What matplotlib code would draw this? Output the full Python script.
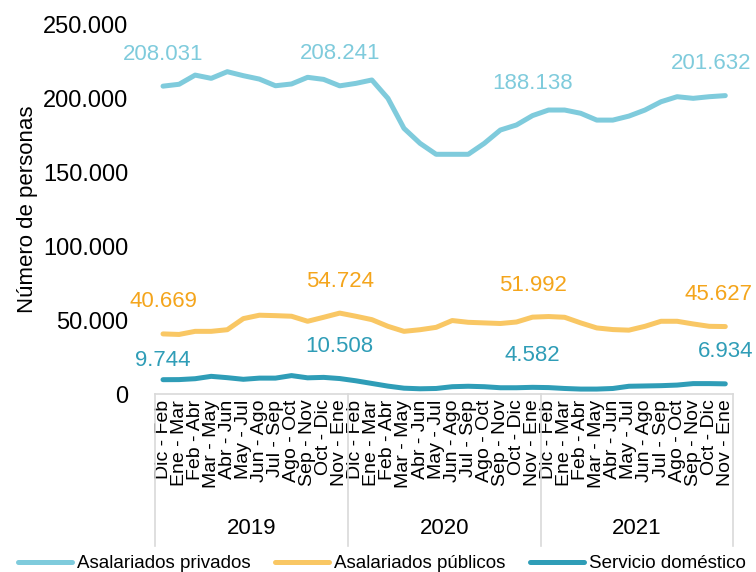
import matplotlib
matplotlib.use('Agg')
import matplotlib.pyplot as plt
import matplotlib.transforms as mtransforms
from matplotlib.ticker import FuncFormatter

plt.rcParams['font.family'] = ['Liberation Sans', 'DejaVu Sans']

# ── Datos ────────────────────────────────────────────────────────────────────
MONTHS = ['Dic - Feb', 'Ene - Mar', 'Feb - Abr', 'Mar - May', 'Abr - Jun',
          'May - Jul', 'Jun - Ago', 'Jul - Sep', 'Ago - Oct', 'Sep - Nov',
          'Oct - Dic', 'Nov - Ene']
YEARS = ['2019', '2020', '2021']
x_labels = MONTHS * len(YEARS)

privados = [208031, 209300, 215500, 213300, 217800, 215100, 212800, 208300,
            209500, 214000, 212600, 208241, 209900, 212200, 199800, 179500,
            169400, 162000, 162000, 162000, 169400, 178400, 181800, 188138,
            191900, 191900, 189700, 185100, 185100, 187800, 191900, 197500,
            200900, 199800, 200900, 201632]
publicos = [40669, 40300, 42400, 42400, 43500, 51000, 53300, 53000,
            52600, 49200, 51900, 54724, 52600, 50300, 45800, 42400,
            43500, 45100, 49700, 48500, 48100, 47700, 48700, 51992,
            52400, 51900, 48100, 44700, 43600, 43200, 45800, 49200,
            49200, 47400, 45800, 45627]
domestico = [9744, 9800, 10400, 12000, 11100, 10000, 10800, 10800,
             12500, 11000, 11300, 10508, 9000, 7200, 5400, 4000,
             3600, 3800, 5000, 5300, 5000, 4300, 4300, 4582,
             4400, 3800, 3400, 3400, 3800, 5300, 5500, 5700,
             6100, 7100, 7100, 6934]

label_idx = [0, 11, 23, 35]

series = [
    ('Asalariados privados', privados, '#7FCBDC', '#7FCBDC'),
    ('Asalariados públicos', publicos, '#F9C764', '#F4A51C'),
    ('Servicio doméstico', domestico, '#2F9DB7', '#2F9DB7'),
]


def fmt(v):
    return f'{v:,.0f}'.replace(',', '.')


# ── Figura ───────────────────────────────────────────────────────────────────
fig = plt.figure(figsize=(7.56, 5.72), dpi=100)
ax = fig.add_axes([0.205, 0.311, 0.765, 0.647])

x = list(range(len(x_labels)))
for name, vals, color, lcolor in series:
    ax.plot(x, vals, color=color, lw=3.6, solid_capstyle='round', label=name)
    for i in label_idx:
        dx = 0
        dy = 23
        if i == 35:
            dx = {'Asalariados privados': -10, 'Asalariados públicos': -5,
                  'Servicio doméstico': 0}[name]
        if name == 'Servicio doméstico' and i == 0:
            dy = 14
        ax.annotate(fmt(vals[i]), (i, vals[i]), xytext=(dx, dy),
                    textcoords='offset points', ha='center', va='center',
                    color=lcolor, fontsize=16, annotation_clip=False)

ax.set_xlim(-0.5, len(x) - 0.5)
ax.set_ylim(0, 250000)
ax.set_yticks(range(0, 250001, 50000))
ax.yaxis.set_major_formatter(FuncFormatter(lambda v, p: fmt(v)))
ax.tick_params(axis='y', length=0, labelsize=17, pad=19)
ax.set_ylabel('Número de personas', fontsize=16, labelpad=4)

ax.set_xticks(x)
ax.set_xticklabels(x_labels, rotation=90, fontsize=14)
ax.tick_params(axis='x', length=0, pad=4)

for s in ['top', 'right', 'left']:
    ax.spines[s].set_visible(False)
ax.spines['bottom'].set_color('#D9D9D9')
ax.spines['bottom'].set_linewidth(1.2)

# separadores y etiquetas de año
trans = mtransforms.blended_transform_factory(ax.transData, ax.transAxes)
for k in range(len(YEARS) + 1):
    xs = k * 12 - 0.5
    ax.plot([xs, xs], [0, -0.41], color='#D9D9D9', lw=1.2,
            transform=trans, clip_on=False)
for k, yr in enumerate(YEARS):
    ax.text(k * 12 + 5.5, -0.362, yr, transform=trans, ha='center',
            va='center', fontsize=16)

fig.legend(loc='lower center', bbox_to_anchor=(0.505, -0.03), ncol=3,
           frameon=False, fontsize=13.5, handlelength=2.9,
           handletextpad=0.25, columnspacing=1.3)

plt.savefig('out.png', dpi=100)
